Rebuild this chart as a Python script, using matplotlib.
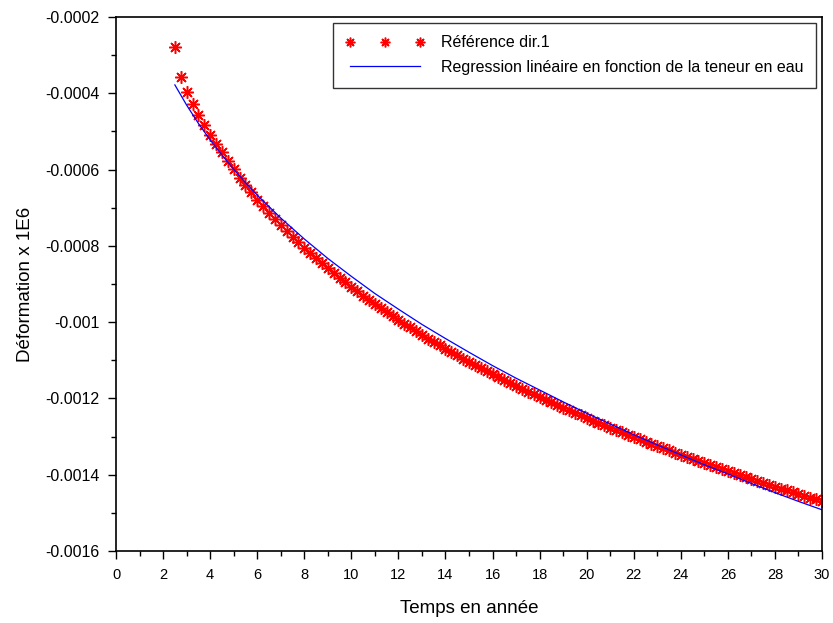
import numpy as np
import matplotlib as mpl
import matplotlib.pyplot as plt
from matplotlib.ticker import MultipleLocator, FixedLocator

mpl.rcParams['font.family'] = ['Liberation Sans', 'DejaVu Sans']

# temps en annee (pas de 0.25 an)
temps = np.arange(2.5, 30.25, 0.25)
# deformation de reference dir.1
reference = [
    -0.000279, -0.000357, -0.000396, -0.000427, -0.000456, -0.000483, -0.000509,
    -0.000532, -0.000555, -0.000577, -0.000599, -0.000621, -0.000641, -0.000660,
    -0.000679, -0.000696, -0.000713, -0.000730, -0.000746, -0.000761, -0.000776,
    -0.000791, -0.000806, -0.000819, -0.000833, -0.000846, -0.000859, -0.000871,
    -0.000884, -0.000896, -0.000908, -0.000919, -0.000931, -0.000942, -0.000953,
    -0.000964, -0.000974, -0.000984, -0.000995, -0.001004, -0.001014, -0.001024,
    -0.001034, -0.001043, -0.001052, -0.001061, -0.001070, -0.001079, -0.001087,
    -0.001096, -0.001104, -0.001112, -0.001120, -0.001128, -0.001137, -0.001144,
    -0.001152, -0.001160, -0.001167, -0.001175, -0.001182, -0.001189, -0.001197,
    -0.001203, -0.001210, -0.001217, -0.001224, -0.001231, -0.001238, -0.001244,
    -0.001251, -0.001258, -0.001264, -0.001270, -0.001277, -0.001283, -0.001289,
    -0.001295, -0.001301, -0.001307, -0.001313, -0.001319, -0.001325, -0.001331,
    -0.001336, -0.001342, -0.001348, -0.001353, -0.001359, -0.001364, -0.001370,
    -0.001375, -0.001381, -0.001386, -0.001391, -0.001396, -0.001402, -0.001407,
    -0.001412, -0.001417, -0.001422, -0.001427, -0.001432, -0.001437, -0.001441,
    -0.001446, -0.001451, -0.001456, -0.001461, -0.001465, -0.001470,
]

# regression lineaire en fonction de la teneur en eau
temps_reg = [2.5, 3, 3.5, 4, 4.5, 5, 5.5, 6, 7, 8, 9, 10, 11, 12, 13, 14, 15,
             16, 17, 18, 19, 20, 21, 22, 23, 24, 25, 26, 27, 28, 29, 30]
regression = [-0.000378, -0.000431, -0.000479, -0.000522, -0.000562, -0.000599,
              -0.000634, -0.000667, -0.000727, -0.000782, -0.000833, -0.000880,
              -0.000925, -0.000966, -0.001006, -0.001043, -0.001079, -0.001114,
              -0.001147, -0.001178, -0.001209, -0.001239, -0.001267, -0.001295,
              -0.001322, -0.001348, -0.001374, -0.001398, -0.001423, -0.001447,
              -0.001470, -0.001492]

y_ticks = [-0.0016, -0.0014, -0.0012, -0.001, -0.0008, -0.0006, -0.0004, -0.0002]
y_labels = ['-0.0016', '-0.0014', '-0.0012', '-0.001', '-0.0008', '-0.0006', '-0.0004', '-0.0002']

fig = plt.figure(figsize=(8.33, 6.23), dpi=100)
ax = fig.add_axes([0.1393, 0.1156, 0.8475, 0.8571])

ax.plot(temps, reference, linestyle='none', marker=(8, 2, 0), markersize=9,
        markeredgewidth=1.1, color='red', label='Référence dir.1')
ax.plot(temps_reg, regression, color='blue', lw=0.9,
        label='Regression linéaire en fonction de la teneur en eau')

ax.set_xlim(0, 30)
ax.set_ylim(-0.0016, -0.0002)
ax.xaxis.set_major_locator(MultipleLocator(2))
ax.xaxis.set_minor_locator(MultipleLocator(1))
ax.yaxis.set_major_locator(FixedLocator(y_ticks))
ax.yaxis.set_minor_locator(MultipleLocator(0.0001))
ax.set_yticklabels(y_labels)

for lab in ax.get_xticklabels():
    lab.set_fontsize(10.5)
for lab in ax.get_yticklabels():
    lab.set_fontsize(11.5)

ax.tick_params(which='major', direction='out', length=6, width=1, pad=6)
ax.tick_params(which='minor', direction='out', length=3.5, width=1)
ax.tick_params(top=False, right=False, which='both')
for s in ax.spines.values():
    s.set_linewidth(1.2)

ax.set_xlabel('Temps en année', fontsize=13.5, labelpad=13)
ax.set_ylabel('Déformation x 1E6', fontsize=13.5, labelpad=8)

leg = ax.legend(loc='upper right', numpoints=3, fontsize=11.5, fancybox=False,
                frameon=True, edgecolor='black', borderaxespad=0.35,
                handlelength=5.0, handletextpad=1.0, labelspacing=0.6,
                borderpad=0.8)
leg.get_frame().set_linewidth(1.0)
for h in leg.legend_handles:
    h.set_markersize(7)

plt.savefig('out.png', dpi=100)
